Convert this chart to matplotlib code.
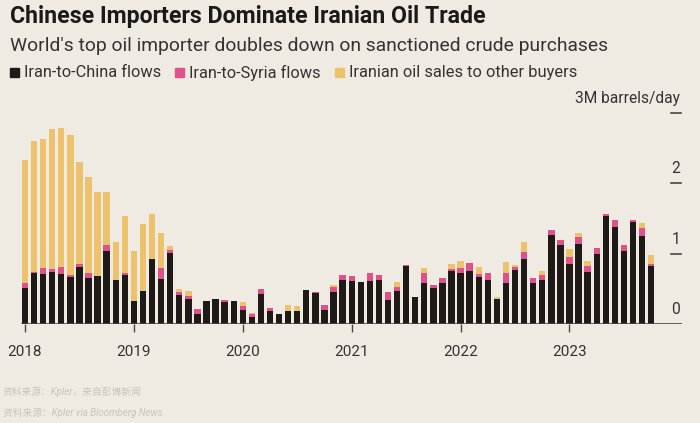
import matplotlib
matplotlib.use("Agg")
import matplotlib.pyplot as plt
import numpy as np

plt.rcParams['font.family'] = ['Roboto', 'Noto Sans CJK SC', 'DejaVu Sans']

# Monthly data, Jan 2018 - Oct 2023 (million barrels/day)
china = [0.515, 0.73, 0.71, 0.74, 0.71, 0.67, 0.81, 0.65, 0.68, 1.035, 0.62, 0.695,
         0.33, 0.47, 0.92, 0.64, 1.01, 0.41, 0.36, 0.14, 0.32, 0.36, 0.31, 0.33,
         0.20, 0.095, 0.42, 0.18, 0.14, 0.19, 0.19, 0.48, 0.44, 0.20, 0.46, 0.63,
         0.61, 0.60, 0.61, 0.63, 0.34, 0.47, 0.82, 0.38, 0.58, 0.51, 0.58, 0.76,
         0.73, 0.75, 0.67, 0.63, 0.35, 0.59, 0.77, 0.92, 0.59, 0.62, 1.27, 1.12,
         0.86, 1.14, 0.74, 0.99, 1.54, 1.38, 1.04, 1.45, 1.25, 0.83]
syria = [0.07, 0.01, 0.08, 0.04, 0.10, 0.02, 0.045, 0.07, 0.0, 0.085, 0.0, 0.035,
         0.0, 0.0, 0.0, 0.16, 0.04, 0.05, 0.04, 0.07, 0.0, 0.0, 0.03, 0.0,
         0.05, 0.045, 0.08, 0.05, 0.0, 0.0, 0.0, 0.0, 0.02, 0.065, 0.06, 0.07,
         0.07, 0.0, 0.11, 0.065, 0.11, 0.06, 0.02, 0.0, 0.14, 0.05, 0.08, 0.02,
         0.06, 0.12, 0.04, 0.09, 0.0, 0.14, 0.04, 0.11, 0.07, 0.08, 0.06, 0.07,
         0.095, 0.10, 0.09, 0.09, 0.02, 0.105, 0.09, 0.03, 0.12, 0.025]
other = [1.75, 1.86, 1.84, 1.99, 1.97, 2.00, 1.445, 1.37, 1.20, 0.76, 0.55, 0.80,
         0.71, 0.95, 0.64, 0.49, 0.06, 0.04, 0.07, 0.0, 0.0, 0.0, 0.0, 0.0,
         0.06, 0.02, 0.0, 0.0, 0.0, 0.075, 0.065, 0.0, 0.0, 0.0, 0.03, 0.0,
         0.0, 0.0, 0.0, 0.0, 0.0, 0.07, 0.0, 0.0, 0.07, 0.0, 0.0, 0.08,
         0.10, 0.0, 0.10, 0.0, 0.04, 0.15, 0.03, 0.14, 0.0, 0.05, 0.0, 0.0,
         0.115, 0.05, 0.07, 0.0, 0.0, 0.0, 0.0, 0.0, 0.06, 0.125]
year_labels = ['2018', '2019', '2020', '2021', '2022', '2023']
y_ticks = [0, 1, 2, 3]
y_tick_labels = ['0', '1', '2', '3M barrels/day']
series_names = ['Iran-to-China flows', 'Iran-to-Syria flows', 'Iranian oil sales to other buyers']

BG = '#efebe3'
C_CHINA = '#1e1a17'
C_SYRIA = '#e0508b'
C_OTHER = '#ecc36c'

fig = plt.figure(figsize=(7, 4.23), dpi=100, facecolor=BG)
ax = fig.add_axes([20/700, (423-324)/423, 662/700, (324-113)/423])
ax.set_facecolor(BG)

x = np.arange(len(china))
c = np.array(china); s = np.array(syria); o = np.array(other)
w = 0.7
ax.bar(x, c, width=w, color=C_CHINA, linewidth=0)
ax.bar(x, s, width=w, bottom=c, color=C_SYRIA, linewidth=0)
ax.bar(x, o, width=w, bottom=c + s, color=C_OTHER, linewidth=0)

ax.set_xlim(-0.55, 72.4)
ax.set_ylim(0, 3.0)
for sp in ax.spines.values():
    sp.set_visible(False)
ax.set_yticks([])
ax.axhline(0, color='#4a4642', lw=1.2, xmin=0.003, zorder=3)

# year ticks
year_pos = np.arange(len(year_labels)) * 12
ax.set_xticks(year_pos)
ax.set_xticklabels(year_labels, fontsize=11, color='#333333')
ax.tick_params(axis='x', length=6, width=1, color='#4a4642', pad=9)

# right y ticks: dashes with labels above
trans = ax.get_yaxis_transform()
for v, lab in zip(y_ticks, y_tick_labels):
    if v > 0:
        ax.plot([0.983, 0.999], [v, v], transform=trans, color='#4a4642', lw=1.2, clip_on=False)
    ax.text(0.997, v + 0.1, lab, transform=trans, ha='right', va='bottom',
            fontsize=11.2, color='#333333')

# titles
fig.text(10/700, 1 - 17/423, 'Chinese Importers Dominate Iranian Oil Trade',
         fontsize=16.7, fontweight='bold', color='#1a1a1a', va='center', ha='left')
fig.text(10/700, 1 - 46/423, "World's top oil importer doubles down on sanctioned crude purchases",
         fontsize=13.9, color='#333333', va='center', ha='left')

# legend
leg_x = [10, 175, 335]
for lx, name, col in zip(leg_x, series_names, [C_CHINA, C_SYRIA, C_OTHER]):
    fig.patches.append(plt.Rectangle((lx/700, 1 - 77/423), 9/700, 9/423,
                                     transform=fig.transFigure, color=col, figure=fig))
    fig.text((lx + 14)/700, 1 - 72.5/423, name, fontsize=11.8, color='#333333',
             va='center', ha='left')

# source lines
fig.text(3/700, 1 - 392/423, '资料来源：Kpler，来自彭博新闻', fontsize=7, style='italic',
         color='#c9c5bd', va='center', ha='left')
fig.text(3/700, 1 - 413/423, '资料来源：Kpler via Bloomberg News', fontsize=7, style='italic',
         color='#c9c5bd', va='center', ha='left')

fig.savefig('out.png', dpi=100, facecolor=BG)
